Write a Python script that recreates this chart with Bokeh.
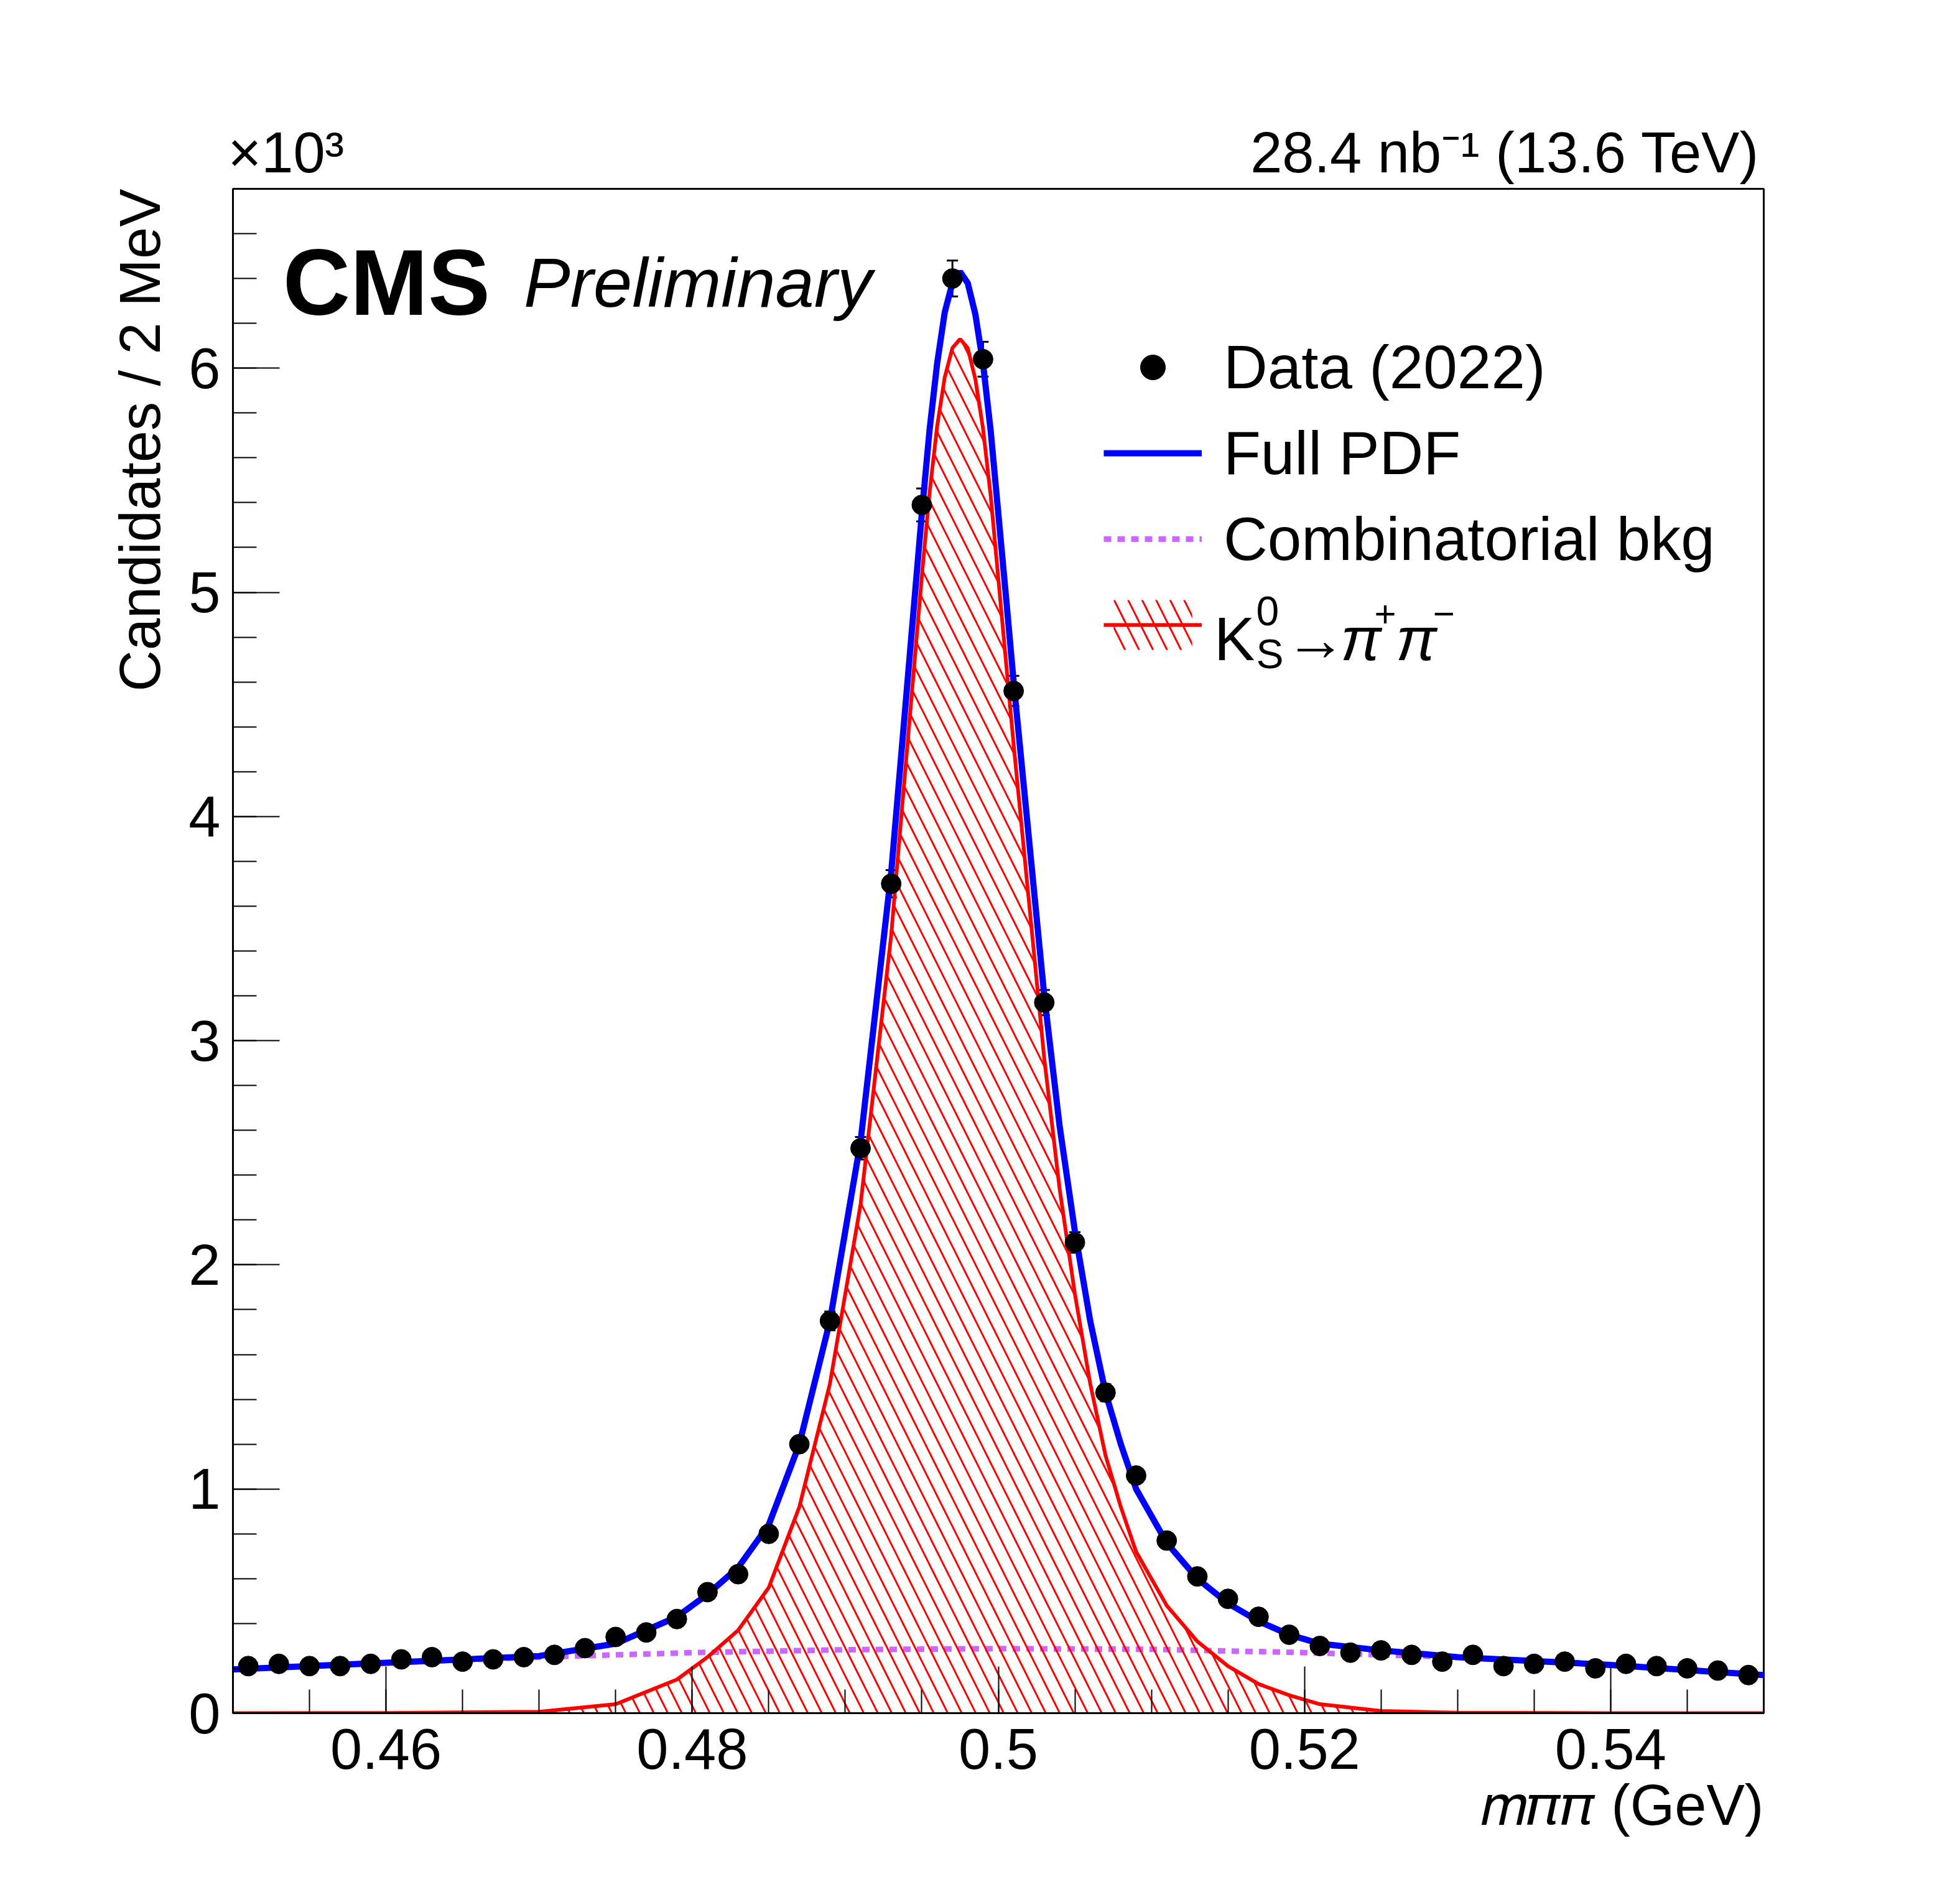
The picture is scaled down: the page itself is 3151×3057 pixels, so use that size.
import numpy as np
from bokeh.plotting import figure
from bokeh.models import (Range1d, SingleIntervalTicker, CustomJSTickFormatter, Label, Title,
                          Whisker, ColumnDataSource, Legend, LegendItem)
from bokeh.embed import file_html
from bokeh.resources import INLINE

# data bins (GeV) and counts (x10^3)
mass = [0.451 + 0.002 * i for i in range(50)]
counts = [0.21, 0.22, 0.21, 0.21, 0.22, 0.24, 0.25, 0.23, 0.24, 0.25,
          0.26, 0.29, 0.34, 0.36, 0.42, 0.54, 0.62, 0.80, 1.20, 1.75,
          2.52, 3.70, 5.39, 6.40, 6.04, 4.56, 3.17, 2.10, 1.43, 1.06,
          0.77, 0.61, 0.51, 0.43, 0.35, 0.30, 0.27, 0.28, 0.26, 0.23,
          0.26, 0.21, 0.22, 0.23, 0.20, 0.22, 0.21, 0.20, 0.19, 0.17]

# fit curves
curve_x = [0.45, 0.46, 0.47, 0.475, 0.479, 0.481, 0.483, 0.485, 0.487, 0.489, 0.491, 0.493,
           0.494, 0.495, 0.4955, 0.496, 0.4965, 0.497, 0.4975, 0.498, 0.4985, 0.499, 0.4995,
           0.500, 0.5005, 0.501, 0.502, 0.503, 0.504,
           0.505, 0.506, 0.507, 0.508, 0.509, 0.511, 0.513, 0.515, 0.517, 0.519, 0.521, 0.525,
           0.53, 0.54, 0.55]
full_pdf = [0.195, 0.225, 0.255, 0.31, 0.43, 0.53, 0.65, 0.84, 1.2, 1.75, 2.55, 3.75,
            4.55, 5.35, 5.72, 6.02, 6.25, 6.38, 6.43, 6.38, 6.24, 6.02, 5.72,
            5.35, 4.98, 4.6, 3.9, 3.2, 2.62,
            2.15, 1.75, 1.43, 1.2, 1.0, 0.76, 0.6, 0.49, 0.41, 0.35, 0.31, 0.28,
            0.25, 0.215, 0.17]
signal = [0, 0.001, 0.006, 0.04, 0.15, 0.25, 0.37, 0.56, 0.92, 1.47, 2.27, 3.47,
          4.27, 5.07, 5.44, 5.74, 5.96, 6.09, 6.13, 6.09, 5.95, 5.73, 5.43,
          5.06, 4.69, 4.32, 3.62, 2.92, 2.34,
          1.87, 1.47, 1.15, 0.92, 0.72, 0.48, 0.32, 0.21, 0.13, 0.08, 0.04, 0.01,
          0.002, 0, 0]
bkg_x = [0.45, 0.46, 0.47, 0.48, 0.49, 0.50, 0.51, 0.52, 0.53, 0.54, 0.55]
bkg = [0.195, 0.225, 0.25, 0.27, 0.283, 0.288, 0.285, 0.27, 0.25, 0.215, 0.17]

errs = [np.sqrt(c * 1000) / 1000 for c in counts]

FONT = "Liberation Sans"
W, H = 3130, 3040
p = figure(width=W, height=H, output_backend="svg", toolbar_location=None,
           x_range=Range1d(0.45, 0.55), y_range=Range1d(0, 6.8),
           min_border_left=374, min_border_right=295, min_border_top=303, min_border_bottom=287)
p.background_fill_color = "white"
p.border_fill_color = "white"
p.grid.visible = False
p.outline_line_color = "black"
p.outline_line_width = 3

p.xaxis.ticker = SingleIntervalTicker(interval=0.02, num_minor_ticks=4)
p.yaxis.ticker = SingleIntervalTicker(interval=1, num_minor_ticks=5)
p.xaxis.formatter = CustomJSTickFormatter(code="return (Math.round(tick*100)/100).toString();")
p.yaxis.formatter = CustomJSTickFormatter(code="return Math.round(tick).toString();")
for ax in (p.xaxis, p.yaxis):
    ax.axis_line_width = 3
    ax.major_tick_line_width = 2
    ax.minor_tick_line_width = 2
    ax.major_tick_out = 0
    ax.minor_tick_out = 0
    ax.major_label_text_font = FONT
    ax.major_label_text_font_size = "92px"
    ax.major_label_text_color = "black"
p.xaxis.major_tick_in = 75
p.xaxis.minor_tick_in = 38
p.yaxis.major_tick_in = 75
p.yaxis.minor_tick_in = 38
p.xaxis.major_label_standoff = 25
p.yaxis.major_label_standoff = 20

r_bkg = p.line(bkg_x, bkg, line_color="#cc66ff", line_width=9, line_dash="12 10")
r_sig = p.varea(x=curve_x, y1=[0] * len(curve_x), y2=signal, fill_color=None, fill_alpha=0,
                hatch_pattern="left_diagonal_line", hatch_color="red", hatch_weight=3,
                hatch_scale=45)
r_sigl = p.line(curve_x, signal, line_color="red", line_width=6)
r_full = p.line(curve_x, full_pdf, line_color="blue", line_width=10)

src = ColumnDataSource(dict(x=mass, lo=[c - e for c, e in zip(counts, errs)],
                            hi=[c + e for c, e in zip(counts, errs)]))
wh = Whisker(source=src, base="x", lower="lo", upper="hi", line_color="black", line_width=3)
wh.upper_head.size = 18
wh.lower_head.size = 18
wh.upper_head.line_width = 3
wh.lower_head.line_width = 3
p.add_layout(wh)
r_data = p.scatter(mass, counts, size=32, color="black")

legend = Legend(items=[
    LegendItem(label="Data (2022)", renderers=[r_data]),
    LegendItem(label="Full PDF", renderers=[r_full]),
    LegendItem(label="Combinatorial bkg", renderers=[r_bkg]),
    LegendItem(label=" ", renderers=[r_sig, r_sigl]),
], location=(1400, 1680), orientation="vertical")
legend.background_fill_alpha = 0
legend.border_line_alpha = 0
legend.label_text_font = FONT
legend.label_text_font_size = "98px"
legend.label_text_color = "black"
legend.label_height = 138
legend.glyph_height = 100
legend.glyph_width = 158
legend.label_standoff = 35
legend.spacing = 0
legend.padding = 0
legend.margin = 0
p.add_layout(legend, "center")

def px(xp):
    return 0.45 + (xp - 382) / 2485 * 0.1

def py(yp):
    return (2781 - yp) / 2470 * 6.8

def lab(text, xp, yp, size, style="normal"):
    p.add_layout(Label(x=px(xp), y=py(yp), text=text, text_font=FONT, text_font_size=size,
                       text_align="left", text_baseline="alphabetic", text_font_style=style,
                       text_color="black"))

lab("K", 1975, 1040, "98px")
lab("0", 2043, 995, "66px")
lab("S", 2043, 1065, "66px")
lab("\u2192", 2090, 1040, "98px")
lab("\u03c0", 2180, 1040, "98px", style="italic")
lab("+", 2235, 1000, "60px")
lab("\u03c0", 2270, 1040, "98px", style="italic")
lab("\u2212", 2330, 1000, "60px")

lab("CMS", 463, 463, "150px", style="bold")
lab("Preliminary", 854, 463, "112px", style="italic")

def title(text, side, align, size, style="normal", offset=0, standoff=10):
    t = Title(text=text, align=align, text_font=FONT, text_font_size=size,
              text_font_style=style, text_color="black", offset=offset, standoff=standoff)
    p.add_layout(t, side)

top_text = "\u00d710\u00b3" + "\u00a0" * 57 + "28.4 nb\u207b\u00b9 (13.6 TeV)"
title(top_text, "above", "left", "92px", offset=-8, standoff=15)
title("Candidates / 2 MeV", "left", "right", "92px", standoff=50)
title("\U0001D45A\U0001D70B\U0001D70B (GeV)", "below", "right", "92px", standoff=5)

open("out.html", "w").write(file_html(p, INLINE))
